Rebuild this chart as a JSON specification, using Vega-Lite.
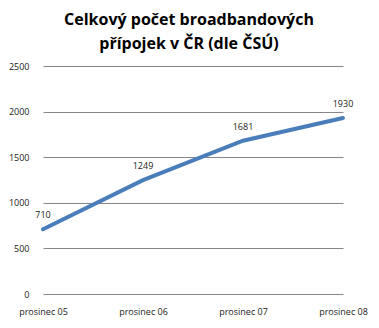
{
  "$schema": "https://vega.github.io/schema/vega-lite/v6.json",
  "width": 332,
  "height": 228,
  "autosize": {"type": "none"},
  "padding": {"left": 39, "top": 66, "right": 8, "bottom": 34},
  "background": "white",
  "title": {
    "text": ["Celkový počet broadbandových", "přípojek v ČR (dle ČSÚ)"],
    "font": "Open Sans",
    "fontSize": 16,
    "fontWeight": "bold",
    "color": "#000000",
    "anchor": "middle",
    "dx": -16,
    "offset": 10,
    "lineHeight": 24
  },
  "config": {"view": {"stroke": null}},
  "data": {
    "values": [
      {"month": "prosinec 05", "value": 710},
      {"month": "prosinec 06", "value": 1249},
      {"month": "prosinec 07", "value": 1681},
      {"month": "prosinec 08", "value": 1930}
    ]
  },
  "encoding": {
    "x": {
      "field": "month",
      "type": "ordinal",
      "sort": null,
      "scale": {"type": "point", "range": [4, 304], "padding": 0},
      "axis": {
        "title": null,
        "domain": false,
        "ticks": false,
        "labelAngle": 0,
        "labelFont": "Open Sans",
        "labelFontSize": 9,
        "labelColor": "#222222",
        "labelPadding": 13
      }
    },
    "y": {
      "field": "value",
      "type": "quantitative",
      "scale": {"domain": [0, 2500], "nice": false},
      "axis": {
        "title": null,
        "values": [0, 500, 1000, 1500, 2000, 2500],
        "format": "d",
        "domain": false,
        "ticks": false,
        "grid": true,
        "gridColor": "#868686",
        "gridWidth": 1,
        "labelFont": "Open Sans",
        "labelFontSize": 9,
        "labelColor": "#222222",
        "labelPadding": 10
      }
    }
  },
  "layer": [
    {
      "mark": {"type": "line", "color": "#4a7ebb", "strokeWidth": 4, "strokeCap": "round"}
    },
    {
      "mark": {"type": "text", "dy": -14, "font": "Open Sans", "fontSize": 9, "color": "#222222"},
      "encoding": {"text": {"field": "value", "type": "quantitative", "format": "d"}}
    }
  ]
}
